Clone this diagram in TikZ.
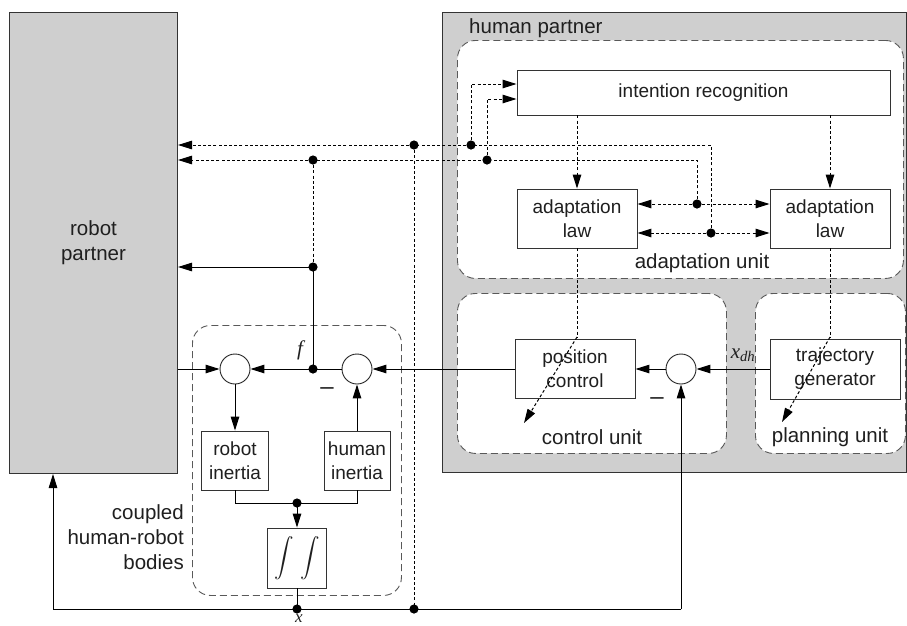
\documentclass[tikz,border=0pt]{standalone}
\usepackage{amsmath}
\usepackage{graphicx}
\usepackage{fontspec}
\setmainfont{Liberation Sans}
\newfontfamily\serifit{Liberation Serif}
\usetikzlibrary{arrows.meta,calc}
\begin{document}
\begin{tikzpicture}[x=1pt,y=-1pt,
  every node/.style={font=\fontsize{19}{24}\selectfont, text=black!88},
  grplbl/.style={font=\fontsize{20.5}{25}\selectfont},
  panel/.style={draw=black!80, fill=black!19, line width=1pt, inner sep=0pt},
  unitbox/.style={draw=black!65, dash pattern=on 7pt off 4pt, rounded corners=18pt, line width=0.9pt, inner sep=0pt},
  blk/.style={draw=black!80, fill=white, line width=0.9pt, align=center, inner sep=0pt},
  sumc/.style={circle, draw=black!85, fill=white, minimum size=30pt, inner sep=0pt, line width=0.9pt},
  sig/.style={line width=1pt, -{Triangle[length=14pt,width=8.5pt]}},
  dsig/.style={line width=1pt, dash pattern=on 3pt off 2.2pt, -{Triangle[length=14pt,width=8.5pt]}},
  dline/.style={line width=1pt, dash pattern=on 3pt off 2.2pt},
  sline/.style={line width=1pt},
  varlbl/.style={font=\fontsize{21}{24}\serifit\itshape, inner sep=0pt},
  minuslbl/.style={font=\fontsize{24}{24}\selectfont, inner sep=0pt},
  jdot/.style={fill=black}
]
\useasboundingbox (0,0) rectangle (907,625);

% panels
\node[panel, grplbl, anchor=north west, minimum width=168pt, minimum height=461pt, align=center] (robot) at (9,12) {robot\\partner};
\node[panel, anchor=north west, minimum width=464pt, minimum height=460pt] (human) at (442,12) {};
\node[grplbl, anchor=base west, inner sep=0pt] (humanlbl) at (469,33) {human partner};

% units
\node[unitbox, fill=white, anchor=north west, minimum width=446pt, minimum height=238pt] (adapt) at (457,40) {};
\node[unitbox, fill=white, anchor=north west, minimum width=269pt, minimum height=160pt] (ctrl) at (457,293) {};
\node[unitbox, fill=white, anchor=north west, minimum width=150pt, minimum height=160pt] (plan) at (755,293) {};
\node[unitbox, anchor=north west, minimum width=209pt, minimum height=270pt] (coupled) at (192,325) {};
\node[grplbl] (adaptlbl) at (702,263) {adaptation unit};
\node[grplbl] (ctrllbl) at (592,437) {control unit};
\node[grplbl] (planlbl) at (830,437) {planning unit};
\node[grplbl, align=right, anchor=east, inner sep=0pt] (coupledlbl) at (184,537) {coupled\\human-robot\\bodies};

% blocks
\node[blk, minimum width=373pt, minimum height=45pt] (intent) at (703.5,92.5) {intention recognition};
\node[blk, minimum width=120pt, minimum height=59pt] (alawL) at (577,218.5) {adaptation\\law};
\node[blk, minimum width=120pt, minimum height=59pt] (alawR) at (830,218.5) {adaptation\\law};
\node[blk, minimum width=120pt, minimum height=59pt] (posc) at (575,369) {position\\control};
\node[blk, minimum width=130pt, minimum height=60pt] (traj) at (835,369) {trajectory\\generator};
\node[blk, minimum width=67pt, minimum height=59pt] (rinert) at (235,460.5) {robot\\inertia};
\node[blk, minimum width=66pt, minimum height=59pt] (hinert) at (357,460.5) {human\\inertia};
\node[blk, minimum width=59pt, minimum height=60pt, font=\fontsize{10}{12}\selectfont] (integ) at (297,558) {\scalebox{1.95}{$\displaystyle\int\,\int$}};

% summing points
\node[sumc] (c1) at (235,369) {};
\node[sumc] (c2) at (357,369) {};
\node[sumc] (c3) at (681,369) {};

% junctions
\coordinate (fj) at (313,369);
\coordinate (rj) at (313,267);
\coordinate (mj) at (297,503);
\coordinate (xb) at (297,609);
\coordinate (xd) at (414,609);
\coordinate (bl) at (53,609);
\coordinate (br) at (681,609);
\coordinate (d1) at (414,145);
\coordinate (d2) at (471,145);
\coordinate (d3) at (313,160);
\coordinate (d4) at (487,160);
\coordinate (d5) at (697,204);
\coordinate (d6) at (711,233);
\coordinate (pA) at (577,337);
\coordinate (pAt) at (524,423);
\coordinate (pB) at (830,337);
\coordinate (pBt) at (782,422);

% labels
\node[varlbl] (flbl) at (300,350) {f};
\node[minuslbl] (m2) at (327,391) {–};
\node[minuslbl] (m3) at (657,401) {–};
\node[varlbl] (xdh) at (743,355) {x\textsubscript{dh}};
\node[varlbl, font=\fontsize{17}{20}\serifit\itshape] (xlbl) at (299,618.5) {x};

% solid signals
\draw[sig] (posc) -- (c2);
\draw[sig] (c3) -- (posc);
\draw[sig] (traj) -- (c3);
\draw[sline] (c2) -- (fj);
\draw[sig] (fj) -- (c1);
\draw[sig] (robot.east |- c1) -- (c1);
\draw[sline] (fj) -- (rj);
\draw[sig] (rj) -- (robot.east |- rj);
\draw[sig] (c1) -- (rinert);
\draw[sig] (hinert) -- (c2);
\draw[sline] (rinert.south) |- (mj) -| (hinert.south);
\draw[sig] (mj) -- (integ);
\draw[sline] (integ) -- (xb);
\draw[sig] (xb) -- (bl) -- (robot.south -| bl);
\draw[sline] (xb) -- (xd) -- (br);
\draw[sig] (br) -- (c3);

% dotted signals
\draw[dline] (d1) -- (xd);
\draw[dline] (d3) -- (rj);
\draw[dline] (d6) |- (d2) -- (d1);
\draw[dsig] (d1) -- (robot.east |- d1);
\draw[dline] (d5) |- (d4) -- (d3);
\draw[dsig] (d3) -- (robot.east |- d3);
\draw[dsig] (d2) |- (intent.west |- 0,84);
\draw[dsig] (d4) |- (intent.west |- 0,99);
\draw[dsig] (d5) -- (alawL.east |- d5);
\draw[dsig] (d5) -- (alawR.west |- d5);
\draw[dsig] (d6) -- (alawL.east |- d6);
\draw[dsig] (d6) -- (alawR.west |- d6);
\draw[dsig] (intent.south -| alawL) -- (alawL);
\draw[dsig] (intent.south -| alawR) -- (alawR);
\draw[dline] (alawL.south) -- (pA);
\draw[dsig] (pA) -- (pAt);
\draw[dline] (alawR.south) -- (pB);
\draw[dsig] (pB) -- (pBt);

% dots
\foreach \p in {fj,rj,mj,xb,xd,d1,d2,d3,d4,d5,d6}
  \fill[jdot] (\p) circle[radius=4.6pt];
\end{tikzpicture}
\end{document}
